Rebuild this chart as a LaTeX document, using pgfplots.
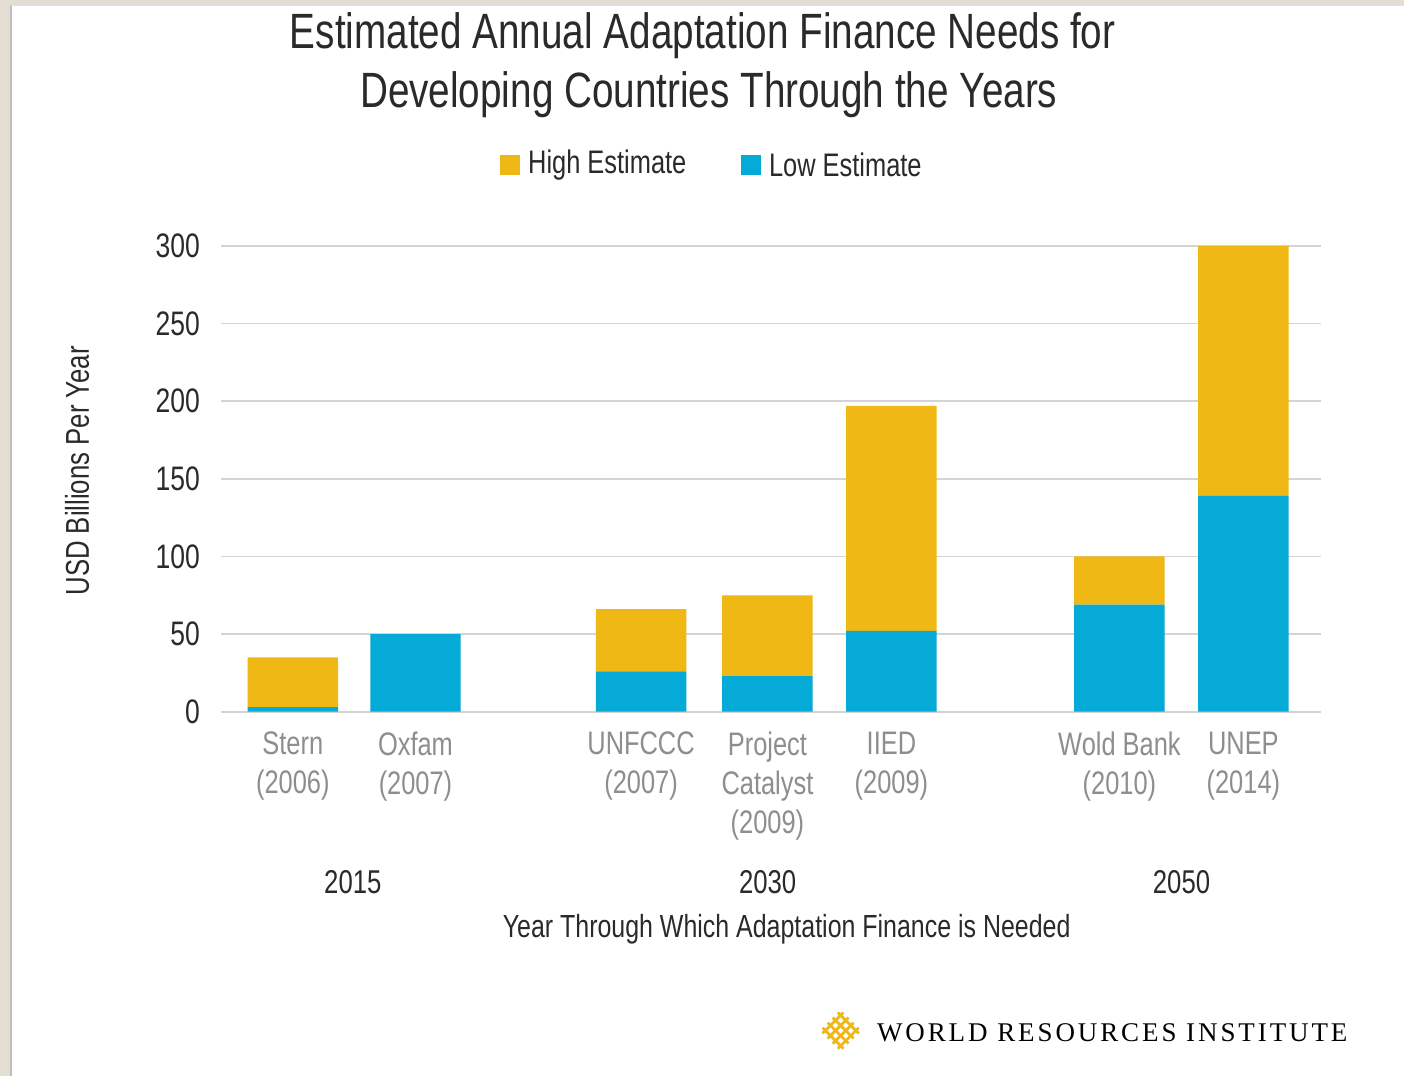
\documentclass[border=0pt]{standalone}
\usepackage{pgfplots}
\pgfplotsset{compat=1.18}
\usepackage{fontspec}
\setmainfont{Liberation Sans}[FakeStretch=0.78]
\newfontfamily\wrifont{Liberation Serif}[LetterSpace=10.8]
\definecolor{gold}{HTML}{F0B814}
\definecolor{cyanb}{HTML}{06AAD7}
\definecolor{beige}{HTML}{E4DED2}
\definecolor{gridc}{HTML}{D4D4D4}
\definecolor{catgray}{HTML}{8E8E8E}
\definecolor{dark}{HTML}{2A2A2A}
\begin{document}
\begin{tikzpicture}
% background
\fill[beige] (0,0) rectangle (702.5pt,-538pt);
\fill[white] (5.5pt,-2.5pt) rectangle (702.5pt,-538pt);
\draw[black!25, line width=0.6pt] (5.5pt,-2.5pt) -- (5.5pt,-538pt);
\draw[black!12, line width=0.6pt] (5.5pt,-2.5pt) -- (702.5pt,-2.5pt);
\useasboundingbox (0,0) rectangle (702.5pt,-538pt);
% title
\node[text=dark, font=\fontsize{24.8}{30}\selectfont] at (351.5pt,-18pt) {Estimated Annual Adaptation Finance Needs for};
\node[text=dark, font=\fontsize{24.8}{30}\selectfont] at (354.5pt,-47.5pt) {Developing Countries Through the Years};
% legend
\fill[gold] (250pt,-77.5pt) rectangle (260pt,-87.5pt);
\node[anchor=west, inner sep=0pt, text=dark, font=\fontsize{16.3}{20}\selectfont] at (264pt,-82.5pt) {High Estimate};
\fill[cyanb] (370.5pt,-77.5pt) rectangle (380.5pt,-87.5pt);
\node[anchor=west, inner sep=0pt, text=dark, font=\fontsize{16.3}{20}\selectfont] at (384.5pt,-82.5pt) {Low Estimate};
% y label
\node[rotate=90, text=dark, font=\fontsize{16.5}{20}\selectfont] at (38.5pt,-235.5pt) {USD Billions Per Year};
\begin{axis}[
  at={(110.5pt,-356pt)}, anchor=south west,
  scale only axis, width=550.5pt, height=233pt,
  ybar stacked, bar width=0.73,
  xmin=-0.58, xmax=8.30, ymin=0, ymax=300,
  ytick={0,50,100,150,200,250,300},
  xtick={0,0.99,2.81,3.83,4.83,6.67,7.67},
  xticklabels={Stern\\(2006),Oxfam\\(2007),UNFCCC\\(2007),Project\\Catalyst\\(2009),IIED\\(2009),Wold Bank\\(2010),UNEP\\(2014)},
  xticklabel style={align=center, text=catgray, font=\fontsize{16.3}{19.5}\selectfont, anchor=north, yshift=-6.5pt},
  yticklabel style={text=dark, font=\fontsize{17}{20}\selectfont, anchor=east, xshift=-7pt},
  /pgf/number format/assume math mode=true,
  major tick length=0pt,
  axis line style={draw=none},
  ymajorgrids, grid style={gridc, line width=0.9pt},
  clip=false,
]
\addplot[fill=cyanb, draw=none] coordinates {(0,3) (0.99,50) (2.81,26) (3.83,23) (4.83,52) (6.67,69) (7.67,139)};
\addplot[fill=gold, draw=none] coordinates {(0,32) (0.99,0) (2.81,40) (3.83,52) (4.83,145) (6.67,31) (7.67,161)};
\end{axis}
% group labels
\node[text=dark, font=\fontsize{16.5}{20}\selectfont] at (176.5pt,-441.5pt) {2015};
\node[text=dark, font=\fontsize{16.5}{20}\selectfont] at (384pt,-441.5pt) {2030};
\node[text=dark, font=\fontsize{16.5}{20}\selectfont] at (591pt,-441.5pt) {2050};
\node[text=dark, font=\fontsize{16}{20}\selectfont] at (393.5pt,-465pt) {Year Through Which Adaptation Finance is Needed};
% logo
\begin{scope}[shift={(420.5pt,-515.5pt)}, rotate=45]
  \foreach \i in {-5.4,-1.8,1.8,5.4} {
    \draw[gold, line width=1.4pt] (\i pt,-7.4pt) -- (\i pt,7.4pt);
    \draw[gold, line width=1.4pt] (-7.4pt,\i pt) -- (7.4pt,\i pt);
  }
\end{scope}
\node[anchor=base west, inner sep=0pt, text=black, font=\wrifont\fontsize{13.5}{16}\selectfont] at (438.5pt,-521pt) {WORLD RESOURCES INSTITUTE};
\end{tikzpicture}
\end{document}
